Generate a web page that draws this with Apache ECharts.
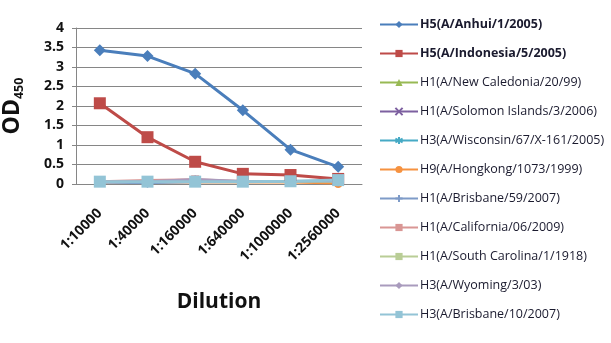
<!DOCTYPE html>
<html>
<head>
<meta charset="utf-8">
<script src="https://cdn.jsdelivr.net/npm/echarts@6/dist/echarts.min.js"></script>
<style>
  html, body { margin: 0; padding: 0; background: #fff; }
  #chart { width: 611px; height: 343px; }
</style>
</head>
<body>
<div id="chart"></div>
<script>
// Dilution steps on the x axis
const dilutions = ['1:10000', '1:40000', '1:160000', '1:640000', '1:1000000', '1:2560000'];

// OD450 readings per antigen
const anhui      = [3.43, 3.28, 2.83, 1.89, 0.88, 0.44];
const indonesia  = [2.07, 1.20, 0.57, 0.26, 0.23, 0.13];
const newCaled   = [0.05, 0.05, 0.06, 0.06, 0.06, 0.07];
const solomon    = [0.06, 0.06, 0.07, 0.07, 0.07, 0.08];
const wisconsin  = [0.05, 0.05, 0.06, 0.06, 0.06, 0.06];
const hongkong   = [0.04, 0.04, 0.04, 0.04, 0.04, 0.01];
const brisbane59 = [0.04, 0.02, 0.05, 0.05, 0.05, 0.05];
const california = [0.07, 0.10, 0.12, 0.08, 0.07, 0.07];
const carolina   = [0.05, 0.05, 0.06, 0.06, 0.06, 0.06];
const wyoming    = [0.06, 0.07, 0.13, 0.08, 0.07, 0.07];
const brisbane10 = [0.06, 0.06, 0.06, 0.06, 0.07, 0.10];

const yTicks = { min: 0, max: 4, step: 0.5 };

const xPath = 'path://M0,0 L10,10 M10,0 L0,10';
const starPath = 'path://M5,0 L5,10 M0,2.5 L10,7.5 M10,2.5 L0,7.5';
const plusPath = 'path://M5,0 L5,10 M0,5 L10,5';
const dashPath = 'path://M0,4 L10,4 L10,6 L0,6 Z';

const seriesDefs = [
  { name: 'H5(A/Anhui/1/2005)',             data: anhui,      color: '#4A7EBB', symbol: 'diamond',  size: 12, width: 3 },
  { name: 'H5(A/Indonesia/5/2005)',         data: indonesia,  color: '#BE4B48', symbol: 'rect',     size: 12, width: 3 },
  { name: 'H1(A/New Caledonia/20/99)',      data: newCaled,   color: '#98B954', symbol: 'triangle', size: 9,  width: 2 },
  { name: 'H1(A/Solomon Islands/3/2006)',   data: solomon,    color: '#7D60A0', symbol: xPath,      size: 9,  width: 2, hollow: true },
  { name: 'H3(A/Wisconsin/67/X-161/2005)',  data: wisconsin,  color: '#46AAC5', symbol: starPath,   size: 9,  width: 2, hollow: true },
  { name: 'H9(A/Hongkong/1073/1999)',       data: hongkong,   color: '#F69240', symbol: 'circle',   size: 9,  width: 2 },
  { name: 'H1(A/Brisbane/59/2007)',         data: brisbane59, color: '#7E9BC8', symbol: plusPath,   size: 9,  width: 2, hollow: true },
  { name: 'H1(A/California/06/2009)',       data: california, color: '#D99694', symbol: dashPath,   size: 8,  width: 2 },
  { name: 'H1(A/South Carolina/1/1918)',    data: carolina,   color: '#B9CD96', symbol: dashPath,   size: 8,  width: 2 },
  { name: 'H3(A/Wyoming/3/03)',             data: wyoming,    color: '#A99BBD', symbol: 'diamond',  size: 8,  width: 2 },
  { name: 'H3(A/Brisbane/10/2007)',         data: brisbane10, color: '#93C4D6', symbol: 'rect',     size: 12, width: 3 }
];

const chart = echarts.init(document.getElementById('chart'), null, { renderer: 'canvas' });

const series = seriesDefs.map(d => ({
  name: d.name,
  type: 'line',
  data: d.data,
  symbol: d.symbol,
  symbolSize: d.size,
  showAllSymbol: true,
  animation: false,
  lineStyle: { color: d.color, width: d.width },
  itemStyle: d.hollow
    ? { color: d.color, borderColor: d.color, borderWidth: 1.5 }
    : { color: d.color, borderColor: d.color, borderWidth: 0 },
  emphasis: { disabled: true }
}));

chart.setOption({
  backgroundColor: '#ffffff',
  animation: false,
  textStyle: { fontFamily: 'Open Sans, Liberation Sans, sans-serif' },
  grid: { left: 76, right: 249, top: 28, bottom: 159 },
  legend: {
    orient: 'vertical',
    left: 374,
    top: 11,
    itemWidth: 38,
    itemHeight: 9,
    itemGap: 12,
    data: seriesDefs.map((d, i) => ({
      name: d.name,
      textStyle: { fontWeight: i < 2 ? 'bold' : 'normal' }
    })),
    textStyle: { fontSize: 12.5, color: '#1a1a2e', lineHeight: 17, padding: [0, 0, 0, -3] }
  },
  xAxis: {
    type: 'category',
    data: dilutions,
    boundaryGap: true,
    name: 'Dilution',
    nameLocation: 'middle',
    nameGap: 108,
    nameTextStyle: { fontSize: 21, fontWeight: 'bold', color: '#111' },
    axisLine: { lineStyle: { color: '#868686', width: 1 } },
    axisTick: { show: false },
    axisLabel: { rotate: 45, fontSize: 14, fontWeight: 'bold', color: '#111', margin: 27, interval: 0 }
  },
  yAxis: {
    type: 'value',
    min: yTicks.min,
    max: yTicks.max,
    interval: yTicks.step,
    name: '{od|OD}{sub|450}',
    nameLocation: 'middle',
    nameRotate: 90,
    nameGap: 50,
    nameTextStyle: {
      rich: {
        od: { fontSize: 23, fontWeight: 'bold', color: '#111', lineHeight: 27 },
        sub: { fontSize: 12.5, fontWeight: 'bold', color: '#111', verticalAlign: 'bottom', lineHeight: 27, padding: [9, 0, 0, 0] }
      }
    },
    axisLine: { show: true, lineStyle: { color: '#868686', width: 1 } },
    axisTick: { show: true, length: 4, lineStyle: { color: '#868686' } },
    splitLine: { lineStyle: { color: '#868686', width: 1 } },
    axisLabel: { fontSize: 14, fontWeight: 'bold', color: '#111', margin: 12 }
  },
  series: series
});
</script>
</body>
</html>
